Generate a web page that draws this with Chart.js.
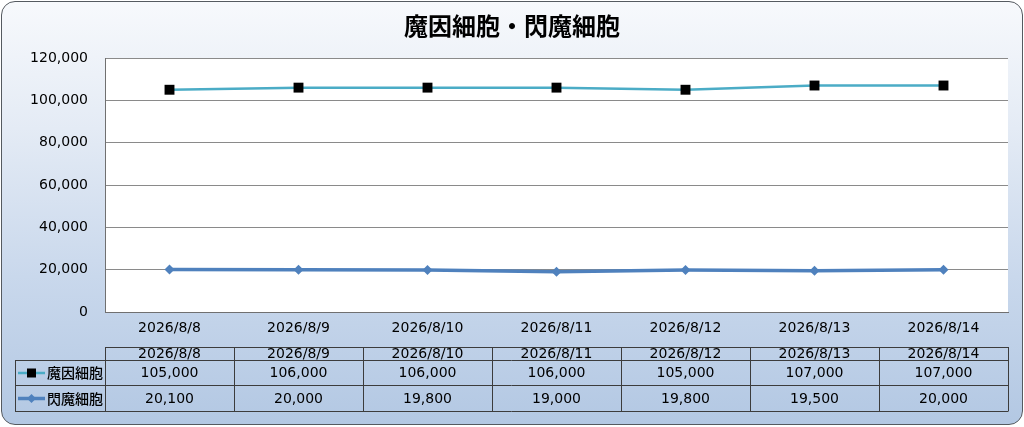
<!DOCTYPE html>
<html>
<head>
<meta charset="utf-8">
<script src="https://cdn.jsdelivr.net/npm/chart.js@4/dist/chart.umd.min.js"></script>
<style>
  html, body { margin: 0; padding: 0; width: 1024px; height: 427px; overflow: hidden; background: #ffffff; }
  #frame {
    position: absolute; left: 1px; top: 1px; width: 1020px; height: 422px;
    border: 1.5px solid #555a60; border-radius: 14px;
    background: linear-gradient(to bottom, #f7f9fc 0%, #e4ebf5 30%, #c9d8ec 65%, #b3c8e3 100%);
  }
  #wrap { position: absolute; left: 0; top: 0; width: 1024px; height: 427px; }
</style>
</head>
<body>
<div id="frame"></div>
<div id="wrap"><canvas id="c" width="1024" height="427"></canvas></div>
<script>
const chartTitle = '魔因細胞・閃魔細胞';
const categories = ['2026/8/8', '2026/8/9', '2026/8/10', '2026/8/11', '2026/8/12', '2026/8/13', '2026/8/14'];
const seriesNames = ['魔因細胞', '閃魔細胞'];
const maInValues = [105000, 106000, 106000, 106000, 105000, 107000, 107000];
const senMaValues = [20100, 20000, 19800, 19000, 19800, 19500, 20000];
const yMin = 0, yMax = 120000, yStep = 20000;

const FONT = '"DejaVu Sans", "Noto Sans CJK JP", sans-serif';
const colors = ['#4bacc6', '#4f81bd'];
const fmt = v => v.toLocaleString('en-US');

const frameTablePlugin = {
  id: 'frameTable',
  beforeDraw(chart) {
    const { ctx, chartArea: a } = chart;
    ctx.save();
    ctx.fillStyle = '#ffffff';
    ctx.fillRect(a.left, a.top, a.right - a.left, a.bottom - a.top);
    ctx.restore();
  },
  afterDraw(chart) {
    const { ctx } = chart;
    const xs = chart.scales.x;
    const n = categories.length;
    const colW = xs.getPixelForValue(1) - xs.getPixelForValue(0);
    const tLeft = Math.round(xs.getPixelForValue(0) - colW / 2);
    const tRight = Math.round(xs.getPixelForValue(n - 1) + colW / 2);
    ctx.save();
    ctx.fillStyle = '#000';
    ctx.font = 'bold 24px "Noto Sans CJK JP", sans-serif';
    ctx.textAlign = 'center';
    ctx.textBaseline = 'middle';
    ctx.fillText(chartTitle, 512, 26);

    const hTop = 347, r1Top = 360, r2Top = 385, bottom = 411;
    const leftX = 15;
    ctx.strokeStyle = '#3c3c3c';
    ctx.lineWidth = 1;
    ctx.beginPath();
    ctx.moveTo(tLeft, hTop + 0.5); ctx.lineTo(tRight, hTop + 0.5);
    ctx.moveTo(leftX, r1Top + 0.5); ctx.lineTo(tRight, r1Top + 0.5);
    ctx.moveTo(leftX, r2Top + 0.5); ctx.lineTo(tRight, r2Top + 0.5);
    ctx.moveTo(leftX, bottom + 0.5); ctx.lineTo(tRight, bottom + 0.5);
    ctx.moveTo(leftX + 0.5, r1Top); ctx.lineTo(leftX + 0.5, bottom + 0.5);
    for (let i = 0; i <= n; i++) {
      const x = Math.round(xs.getPixelForValue(0) - colW / 2 + i * colW) + 0.5;
      ctx.moveTo(x, hTop); ctx.lineTo(x, bottom + 0.5);
    }
    ctx.stroke();

    ctx.font = '14px ' + FONT;
    ctx.fillStyle = '#000';
    ctx.textAlign = 'center';
    ctx.textBaseline = 'middle';
    const rows = [maInValues, senMaValues];
    for (let i = 0; i < n; i++) {
      const cx = xs.getPixelForValue(i);
      ctx.fillText(categories[i], cx, (hTop + r1Top) / 2 + 1);
      ctx.fillText(fmt(rows[0][i]), cx, (r1Top + r2Top) / 2 + 1);
      ctx.fillText(fmt(rows[1][i]), cx, (r2Top + bottom) / 2 + 1);
    }
    const tops = [r1Top, r2Top, bottom];
    for (let s = 0; s < 2; s++) {
      const cy = (tops[s] + tops[s + 1]) / 2 + 0.5;
      ctx.strokeStyle = colors[s];
      ctx.lineWidth = s === 0 ? 2.5 : 3.5;
      ctx.beginPath();
      ctx.moveTo(18, cy); ctx.lineTo(45, cy);
      ctx.stroke();
      ctx.fillStyle = s === 0 ? '#000' : colors[1];
      ctx.beginPath();
      if (s === 0) {
        ctx.rect(27, cy - 4.5, 9, 9);
      } else {
        ctx.moveTo(31.5, cy - 4.5); ctx.lineTo(36, cy); ctx.lineTo(31.5, cy + 4.5); ctx.lineTo(27, cy);
        ctx.closePath();
      }
      ctx.fill();
      ctx.fillStyle = '#000';
      ctx.textAlign = 'left';
      ctx.font = '500 14px "Noto Sans CJK JP", sans-serif';
      ctx.fillText(seriesNames[s], 47, cy);
    }
    ctx.restore();
  }
};

new Chart(document.getElementById('c'), {
  type: 'line',
  data: {
    labels: categories,
    datasets: [
      {
        label: seriesNames[0], data: maInValues, borderColor: colors[0], borderWidth: 2.5,
        pointStyle: 'rect', pointRadius: 7, pointBackgroundColor: '#000', pointBorderColor: '#000', pointBorderWidth: 0, tension: 0
      },
      {
        label: seriesNames[1], data: senMaValues, borderColor: colors[1], borderWidth: 3.5,
        pointStyle: 'rectRot', pointRadius: 5, pointBackgroundColor: colors[1], pointBorderColor: colors[1], pointBorderWidth: 0, tension: 0
      }
    ]
  },
  options: {
    responsive: false, animation: false, devicePixelRatio: 1,
    layout: { padding: { left: 0, right: 16, top: 58, bottom: 85 } },
    plugins: { legend: { display: false }, title: { display: false }, tooltip: { enabled: false } },
    scales: {
      x: {
        type: 'category', offset: true,
        afterFit: s => { s.height = 30; },
        grid: { display: false, drawTicks: false },
        border: { display: true, color: '#707070', width: 1 },
        ticks: { color: '#000', font: { family: FONT, size: 14 }, padding: 8, maxRotation: 0, autoSkip: false }
      },
      y: {
        min: yMin, max: yMax,
        afterFit: s => { s.width = 105; },
        grid: { color: '#8a8a8a', lineWidth: 1, drawTicks: false },
        border: { display: true, color: '#707070', width: 1 },
        ticks: { stepSize: yStep, color: '#000', font: { family: FONT, size: 14 }, padding: 17, callback: v => fmt(v) }
      }
    }
  },
  plugins: [frameTablePlugin]
});
</script>
</body>
</html>
